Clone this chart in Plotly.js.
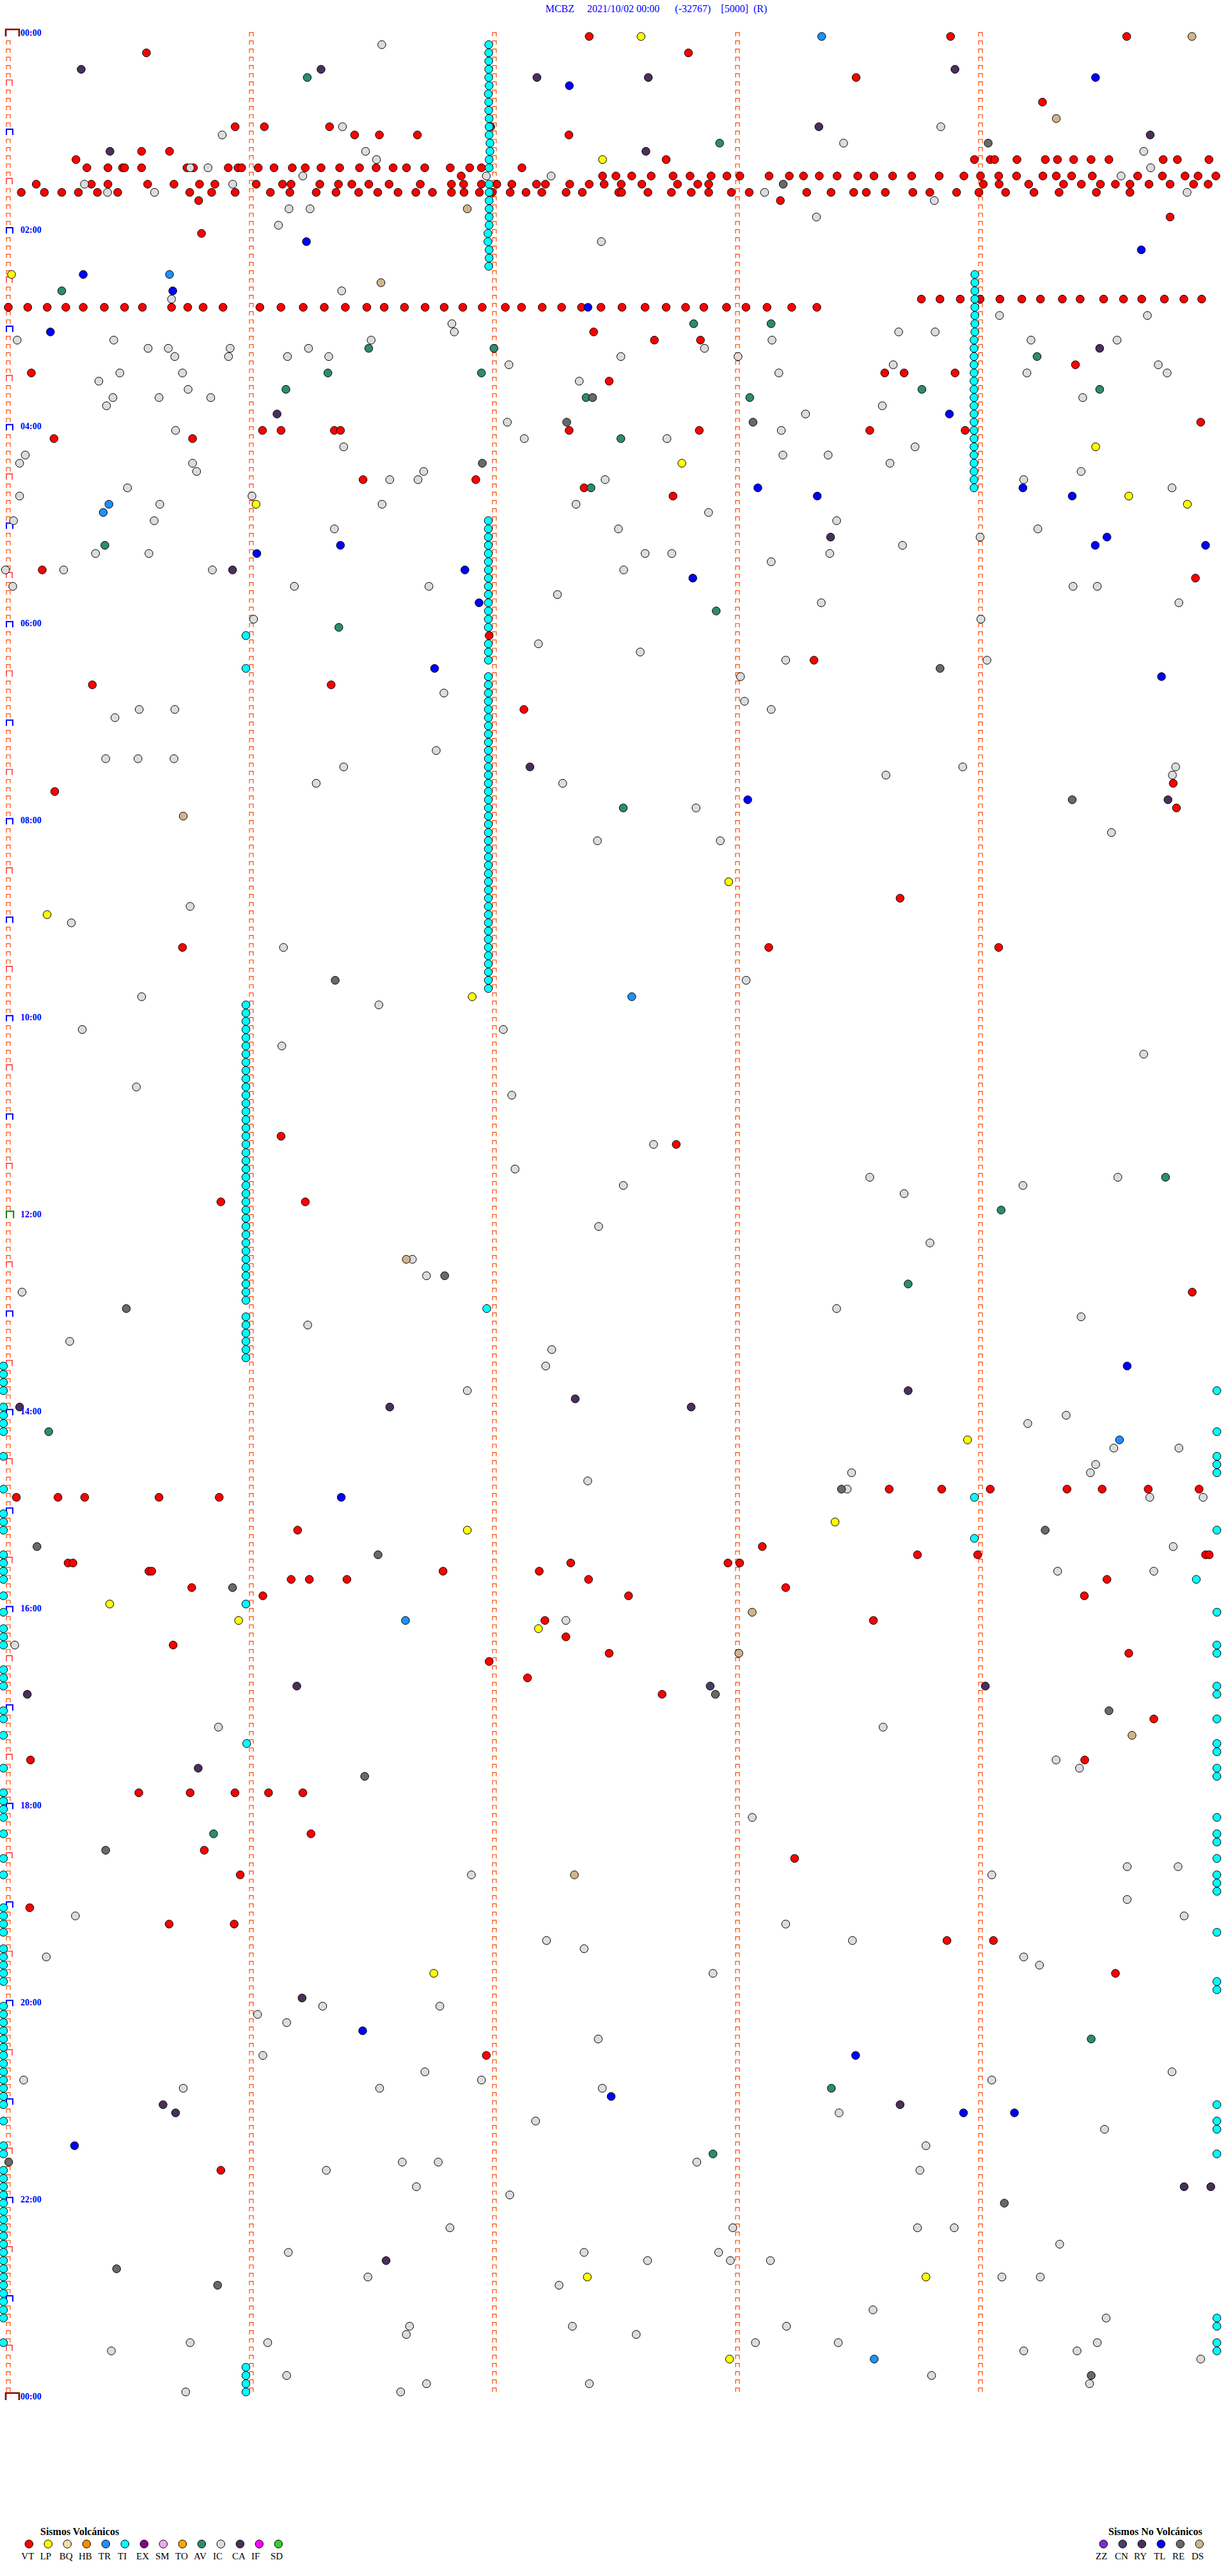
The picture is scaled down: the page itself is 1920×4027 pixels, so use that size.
<!DOCTYPE html>
<html>
<head>
<meta charset="utf-8">
<script src="https://cdn.plot.ly/plotly-3.0.1.min.js"></script>
<style>html,body{margin:0;padding:0;background:#fff;overflow:hidden}#chart{width:1920px;height:4027px}</style>
</head>
<body>
<div id="chart"></div>
<script>
// Each row of the drum lasts 5 minutes (row 0 = 00:00, row 288 = 24:00).
// Event lists: [row, second within the row, second, ...]
const VT = [
[0,143.4,232.6,276.1],[2,34.1,167.9],[5,209.3],[8,255.3],[11,56.0,63.2,79.3,119.1],[12,85.5,91.6,101.0,138.4],[14,32.9,39.8],
[15,16.7,162.4,238.5,242.4,243.5,249.0,256.0,259.0,263.0,267.3,271.7,285.1,288.6,296.4],
[16,19.4,24.6,28.2,28.7,32.9,44.1,45.7,54.3,56.7,57.6,61.7,65.6,70.1,73.3,77.2,81.8,86.7,90.8,95.0,98.3,102.8,109.1,113.9,116.8,126.8],
[17,111.8,146.7,150.0,153.9,158.7,164.1,168.3,173.5,177.4,180.6,187.8,192.8,196.3,200.2,204.6,209.7,213.7,218.3,223.0,229.8,235.9,240.0,244.5,248.9,255.4,258.7,262.5,267.6,278.8,284.9,290.5,293.7,298.1],
[18,6.9,20.5,24.6,34.4,40.9,47.2,51.0,61.2,67.7,69.8,76.9,81.5,84.8,89.0,94.0,101.7,109.4,112.4,116.8,120.6,124.3,130.4,132.6,138.6,143.4,147.1,151.3,156.4,165.2,170.2,172.9,240.7,244.6,251.9,260.5,264.9,269.6,273.3,276.9,281.6,286.8,292.6,296.2],
[19,3.2,8.9,13.2,17.3,22.0,27.0,44.8,50.2,56.0,64.7,69.5,76.0,80.9,86.5,91.2,96.2,100.6,104.7,109.4,112.5,116.3,119.5,123.9,127.8,131.7,137.7,141.7,150.7,151.4,157.9,163.7,168.6,172.9,178.5,182.9,197.1,203.1,208.7,211.8,216.5,223.3,227.5,234.1,239.6,246.2,253.2,259.4,268.6,276.9],
[20,47.0,190.6],[22,286.8],[24,47.7],
[32,225.4,230.0,235.0,239.9,244.8,250.2,254.8,260.2,264.6,270.4,275.3,279.8,285.4,290.2,294.6],
[33,0,4.8,9.6,14.2,18.5,23.7,28.7,33.1,40.3,44.3,48.1,53.0,62.1,67.3,72.8,78.0,83.2,88.5,92.8,97.8,102.9,107.6,112.2,117.0,122.7,126.7,131.8,136.6,141.5,146.3,151.5,157.2,162.4,167.2,171.7,177.3,182.1,187.3,193.4,199.6],
[36,144.5],[37,159.9,171.3],[40,264.1],[41,5.7,216.9,221.7,234.3],[42,148.7],[47,295.1],
[48,62.9,67.5,80.7,82.2,138.8,171.0,213.2,236.8],[49,11.3,45.6],[54,87.8,115.7],[55,142.5],[56,164.5],
[65,8.4],[66,293.8],[73,119.0],[76,199.4],[79,20.8,79.9],[82,127.6],[91,288.3],[92,11.5],[94,289.1],[105,220.7],
[111,43.1,188.2,245.1],[134,67.5],[135,165.3],[142,52.6,73.5],[153,293.0],
[177,218.0,231.0,243.0,262.0,270.7,282.1,294.7],[178,2.0,12.3,18.9,37.3,52.2],[182,71.6],[184,186.6],
[185,225.0,239.9,296.3,297.2],[186,14.8,16.0,139.2,178.1,181.0],[187,34.8,35.5,107.6,131.4],[188,70.0,74.5,83.8,143.6,271.9],
[189,45.4,192.4],[190,63.0,153.5,266.3],[193,132.8,214.1],[195,138.0],[196,40.8],[197,148.7,277.3],[198,119.0],[200,128.5],
[202,161.8],[205,283.5],[210,5.5,266.4],[214,32.3,45.0,56.1,64.4,72.9],[219,74.9],[221,48.5],[222,194.6],[224,57.4],
[228,5.3],[230,39.8,55.9],[232,232.3,243.8],[236,274.0],[246,118.3],[260,52.6]
];
const LP = [[0,156.2],[15,146.7],[29,0.8],[50,269.1],[52,166.7],[56,277.3],[57,61.3,291.8],[103,178.3],[107,9.6],[117,114.8],
[171,237.4],[181,204.6],[182,113.6],[191,25.1],[193,57.0],[194,131.2],[236,105.3],[273,143.3,227.1],[283,178.5]];
const BQ = [];
const HB = [];
const TR = [[0,200.8],[29,39.8],[57,24.9],[58,23.5],[117,154.3],[171,275.0],[193,98.3],[283,214.3]];
// TI events listed as [second, row, row, ...]
const TI = [
[118.6,1,2,3,4,5,8,9,28],[118.5,7],[118.7,6,10,11,12,15,16,18,19,20,21,22,23,26,27],[118.9,13,14],[118.4,24,25],
[238.6,29,30,31,32,33,34,35,36],
[239.0,37,38,39,40,41,42,43,44,45,46,47,48,49,50,51,52,53,54,55],
[118.8,59,60,61,62,63,64,65,66,67,68,69,70,71,72,74,75,76,78,79,80,81,82,83,84,85,86,87,88,89,90,91,92,93,94,95,96,97,98,99,100,101,102,103,104,105,106,107,108,109,110,111,112,113,114,115,116],
[58.8,73,77,118,119,120,121,122,123,124,125,126,127,128,129,130,131,132,133,134,135,136,137,138,139,140,141,142,143,144,145,146,147,148,149,150,151,152,153,154,156,157,158,159,160,161,191,284,285,286,287],
[59.0,208],[118.4,155],[239.1,178,183],[294.0,188],
[-1.2,162,163,164,165,167,168,169,170,173,177,180,181,182,185,186,187,188,190,192,194,195,196,199,200,201,204,205,207,211,214,215,216,217,219,222,224,228,229,230,231,233,234,235,236,237,240,241,242,243,244,245,246,247,248,249,250,251,252,254,257,258,260,261,262,263,264,265,266,267,268,269,270,271,272,273,274,275,276,277,278,281],
[299.1,165,170,173,174,175,182,192,196,197,201,202,205,208,209,211,212,217,219,220,222,224,225,226,231,237,238,252,254,255,258,278,279,281,282]
];
const EX = [];
const SM = [];
const TO = [];
const AV = [[5,73.8],[13,175.6],[31,13.2],[35,169.2,188.3],[38,89.2,120.2],[39,254.6],[41,79.1,117.1],[43,68.7,226.1,270.1],[44,143.0,183.5],
[49,151.6],[55,144.2],[62,23.9],[70,175.2],[72,81.8],[94,152.2],[139,286.4],[143,245.7],[152,222.7],[170,10.0],[219,50.8],[244,268.0],[250,203.7],[258,174.4]];
const IC = [
[1,92.2],[11,82.5,230.2],[12,52.8],[13,206.2],[14,88.2,280.3],[15,90.9],[16,44.9,49.3,282.0],[17,72.7,118.0,134.0,274.7],[18,18.8,55.4],[19,24.5,36.1,186.7,291.0],[20,228.6],[21,69.3,74.5],[22,199.5],[23,66.7],[25,146.4],[31,82.3],[32,40.3],[34,244.7,281.2],[35,109.5],[36,110.1,219.8,228.8],
[37,2.2,26.1,89.8,189.0,253.1,274.4],[38,34.6,39.6,54.9,74.3,172.3],[39,41.2,54.5,69.1,79.3,151.6,180.6],[40,123.9,219.0,284.6],[41,27.6,43.1,190.7,252.1,286.8],[42,22.4,141.3],[43,44.5],[44,25.9,37.3,50.1,265.9],[45,24.3,216.3],[46,197.3],[47,123.5],[48,41.4,191.3],[49,127.7,163.0],[50,83.0,224.4],[51,4.2,191.7,202.9],[52,2.8,45.6,218.2],[53,46.6,102.8,265.5],[54,94.4,101.4,147.7,251.3],[55,29.5,288.0],[56,2.8,60.3],[57,37.5,92.5,140.5],[58,173.3],[59,1.3,36.1,205.0],[60,80.7,151.0,254.8],[61,240.5],[62,221.3],[63,21.6,34.8,157.6,164.2,203.3],[64,188.8],[65,-0.7,13.7,50.5,152.3],[67,1.1,70.8,104.1,263.5,269.5],[68,135.9],[69,201.2,289.7],[71,60.7,240.7],[74,131.2],[75,156.4],
[76,192.4,242.2],[78,181.2],[80,107.8],[81,182.2],[82,32.4,41.2,188.8],[83,26.4],[87,105.9],[88,24.1,32.1,41.0],[89,83.0,236.2,288.9],[90,217.2,288.1],[91,76.2,137.2],[94,170.2],[97,273.0],[98,145.8,176.2],[106,45.0],[108,15.6],[111,68.1],[115,182.6],[117,33.0],[118,91.7],[121,18.3,122.5],[123,67.7],[124,281.0],[128,31.7],[129,124.6],[135,159.7],[138,125.4],[139,213.2,274.6],[140,152.2,251.1],[141,221.7],[145,146.1],[147,228.1],[149,100.0],[151,103.5],[153,3.4],[155,205.0],[156,265.5],[157,74.1],[159,15.2],[160,134.5],
[162,133.0],[165,113.6],[168,261.8],[169,252.3],[172,273.6,289.7],[174,269.1],[175,208.7,267.8],[176,143.4],[177,207.6],[178,282.5,295.7],[184,288.3],[187,259.7,283.5],[193,138.0],[196,1.6],
[206,52.0,216.5],[210,259.3],[211,265.1],[217,184.1],[223,276.9,289.5],[224,114.6,243.4],[227,276.9],[229,16.6,291.0],[230,192.4],[232,133.2,208.9],[233,142.5],[234,9.4,251.3],[235,255.2],[236,174.4],[240,77.8,106.8],[241,61.7],[242,68.9],[244,146.0],[246,63.0],
[248,103.1,288.0],[249,3.8,117.1,243.4],[250,43.3,91.9,147.0],[253,205.6],[254,130.5],[255,271.3],[257,227.1],[259,97.5,106.4,170.4],[260,78.7,225.6],[262,101.0],[263,124.1],[267,109.3,179.3,225.0,234.1],[269,260.2],[270,69.3,142.5,175.8],[271,158.2,178.7,188.6],[273,89.0,245.9,255.4],[274,136.3],[277,214.0],[278,271.7],[279,99.3,139.6,192.6],[280,98.5,155.4],[281,45.0,64.2,184.9,205.4,269.5],[282,25.5,251.3,264.5],[283,295.1],[285,68.9,228.5],[286,103.5,143.8,267.6],[287,43.9,97.1]
];
const CA = [[4,18.0,77.2,233.7],[5,130.5,158.0],[11,200.1],[12,281.9],[14,25.1,157.4],[38,270.1],[46,66.5],[61,203.5],[65,55.5],[89,129.1],[93,287.0],[165,222.7],[166,140.3],[167,2.8,94.4,169.0],[201,71.4,241.8],[202,4.7],[211,47.0],[239,72.7],[252,38.3,220.7],[253,41.4],[262,291.0,297.6],[271,93.5]];
const IF = [];
const SD = [];
const ZZ = [];
const CN = [[201,173.7]];
const RY = [];
const TL = [[6,138.5],[25,73.6],[26,279.7],[29,18.5],[31,40.6],[33,143.1],[36,10.4],[5,268.4],[46,232.9],[55,185.5,251.1],[56,200.2,263.3],[61,271.9],[62,82.2,269.0,296.3],[63,61.5],[65,113.0],[66,169.4],[69,116.5],[77,105.5],[78,285.4],[93,183.0],[162,276.9],[178,82.4],[243,87.7],[246,209.7],[251,149.2],[253,236.4,249.0],[257,16.4]];
const RE = [[13,241.9],[18,191.3],[44,144.6],[47,138.2,184.3],[52,117.3],[77,230.6],[93,263.3],[115,80.9],[151,108.0],[155,29.2],[177,206.2],[182,256.6],[184,7.1],[185,91.5],[189,55.5],[202,175.0],[204,272.4],[212,88.2],[221,24.1],[259,0.1],[264,246.5],[272,26.8],[274,51.8],[285,268.0]];
const DS = [[0,292.2],[10,258.7],[21,113.3],[30,92.0],[95,43.3],[149,98.5],[192,184.1],[197,180.8],[207,278.1],[224,140.1]];

const volcanicNames = ['VT','LP','BQ','HB','TR','TI','EX','SM','TO','AV','IC','CA','IF','SD'];
const volcanicColors = ['#FF0000','#FFFF00','#F0E0A8','#FF8C00','#1E90FF','#00FFFF','#8B008B','#EEAAEE','#FFA500','#2E8B6E','#DCDCDC','#4A2F5C','#FF00FF','#32CD32'];
const otherNames = ['ZZ','CN','RY','TL','RE','DS'];
const otherColors = ['#7B2FCF','#483D6B','#4A2F5C','#0000FF','#696969','#D2B48C'];
const timeLabels = ['00:00','02:00','04:00','06:00','08:00','10:00','12:00','14:00','16:00','18:00','20:00','22:00','00:00'];
const titleText = 'MCBZ\u00A0\u00A0\u00A0\u00A0\u00A02021/10/02 00:00\u00A0\u00A0\u00A0\u00A0\u00A0\u00A0(-32767)\u00A0\u00A0\u00A0\u00A0[5000]\u00A0\u00A0(R)';
const columnSeconds = [0,60,120,180,240];
const ROWS = 288;
// rows from 37 on were read from a coarser view, whose reading ran slightly long
const coarseFromRow = 37, coarseReadingScale = 0.9975;
function readSecond(row,sec){return row>=coarseFromRow&&sec>0?sec*coarseReadingScale:sec;}

const eventLists = {VT,LP,BQ,HB,TR,EX,SM,TO,AV,IC,CA,IF,SD,ZZ,CN,RY,TL,RE,DS};
function unpackRows(list){const x=[],y=[];list.forEach(g=>{for(let i=1;i<g.length;i++){y.push(g[0]);x.push(readSecond(g[0],g[i]));}});return {x,y};}
function unpackSecs(list){const x=[],y=[];list.forEach(g=>{for(let i=1;i<g.length;i++){x.push(readSecond(g[i],g[0]));y.push(g[i]);}});return {x,y};}

const markerSize = 12.5;
function eventTrace(name,color,pts){
  return {type:'scatter',mode:'markers',name,x:pts.x,y:pts.y,cliponaxis:false,hoverinfo:'skip',
    marker:{size:markerSize,color,line:{color:'#000',width:1},symbol:'circle'}};
}
function tickTrace(rows,cols,left,right,h,color,width){
  const x=[],y=[];
  rows.forEach(r=>cols.forEach(c=>{x.push(c+left,c+left,c+right,c+right,null);y.push(r,r-h,r-h,r,null);}));
  return {type:'scatter',mode:'lines',x,y,line:{color,width,shape:'linear'},hoverinfo:'skip',cliponaxis:false};
}

const traces=[];
const rowsAll=[];for(let r=0;r<ROWS;r++)rowsAll.push(r);
const firstSmall=rowsAll.filter(r=>r%6!==0);
traces.push(tickTrace(firstSmall,[0],-0.47,0.47,0.47,'#FF4500',1.2));
traces.push(tickTrace(rowsAll,columnSeconds.slice(1),-0.47,0.47,0.47,'#FF4500',1.2));
traces.push(tickTrace(rowsAll.filter(r=>r%12===6),[0],-0.47,0.95,0.70,'#FF0000',1.2));
traces.push(tickTrace(rowsAll.filter(r=>r%12===0&&r%144!==0),[0],-0.47,1.1,0.70,'#0000FF',2));
traces.push(tickTrace([144],[0],-0.47,1.3,0.86,'#008000',2));
traces.push(tickTrace([0,288],[0],-0.63,2.68,0.86,'#8B0000',2.6));

volcanicNames.forEach((n,i)=>{
  const pts = n==='TI'?unpackSecs(TI):unpackRows(eventLists[n]);
  if(pts.x.length) traces.push(eventTrace(n,volcanicColors[i],pts));
});
otherNames.forEach((n,i)=>{
  const pts=unpackRows(eventLists[n]);
  if(pts.x.length) traces.push(eventTrace(n,otherColors[i],pts));
});

// time labels beside the first column, one every 24 rows
traces.push({type:'scatter',mode:'text',x:timeLabels.map(()=>3.0),y:timeLabels.map((_,i)=>i*24-0.38),text:timeLabels,
  textposition:'middle right',cliponaxis:false,hoverinfo:'skip',
  textfont:{family:'"Liberation Serif",serif',size:14,color:'#0000FF',weight:'bold'}});

// key at the foot of the page (second, page-sized axes)
const keyY=3977, keyLabelY=3997, keyHeadY=3957;
const keyFont={family:'"Liberation Serif",serif',size:15,color:'#000'};
function keyTraces(names,colors,xStart,labelOffsets){
  names.forEach((n,i)=>{
    traces.push({type:'scatter',mode:'markers',xaxis:'x2',yaxis:'y2',x:[xStart+30*i],y:[keyY],hoverinfo:'skip',cliponaxis:false,
      marker:{size:markerSize,color:colors[i],line:{color:'#000',width:1}}});
  });
  traces.push({type:'scatter',mode:'text',xaxis:'x2',yaxis:'y2',x:names.map((_,i)=>xStart+30*i+labelOffsets[i]),y:names.map(()=>keyLabelY),
    text:names,textposition:'middle right',textfont:keyFont,hoverinfo:'skip',cliponaxis:false});
}
keyTraces(volcanicNames,volcanicColors,45.3,[-12,-12.6,-12.6,-12.3,-11.3,-11.3,-12.3,-12.3,-11.3,-12.3,-12.3,-12.3,-12.3,-12.3]);
keyTraces(otherNames,otherColors,1725.3,[-12.3,-12.3,-12.3,-11.3,-12.3,-12.3]);

const layout={
  width:1920,height:4027,margin:{l:0,r:0,t:0,b:0,pad:0},paper_bgcolor:'#fff',plot_bgcolor:'#fff',showlegend:false,
  title:{text:titleText,font:{family:'"Liberation Serif",serif',size:16,color:'#0000FF'},x:1026/1920,xanchor:'center',y:1-13/4027,yanchor:'middle'},
  xaxis:{range:[-2.05,301.1],visible:false,fixedrange:true},
  yaxis:{range:[309.43,-4.443],visible:false,fixedrange:true},
  xaxis2:{range:[0,1920],visible:false,overlaying:'x',anchor:'y2',fixedrange:true},
  yaxis2:{range:[4027,0],visible:false,overlaying:'y',anchor:'x2',fixedrange:true},
  annotations:[
    {xref:'x2',yref:'y2',x:124,y:keyHeadY,text:'<b>Sismos Volcánicos</b>',showarrow:false,font:{family:'"Liberation Serif",serif',size:16,color:'#000'}},
    {xref:'x2',yref:'y2',x:1806,y:keyHeadY,text:'<b>Sismos No Volcánicos</b>',showarrow:false,font:{family:'"Liberation Serif",serif',size:16,color:'#000'}}
  ]
};
Plotly.newPlot('chart',traces,layout,{displayModeBar:false,staticPlot:true});
</script>
</body>
</html>
